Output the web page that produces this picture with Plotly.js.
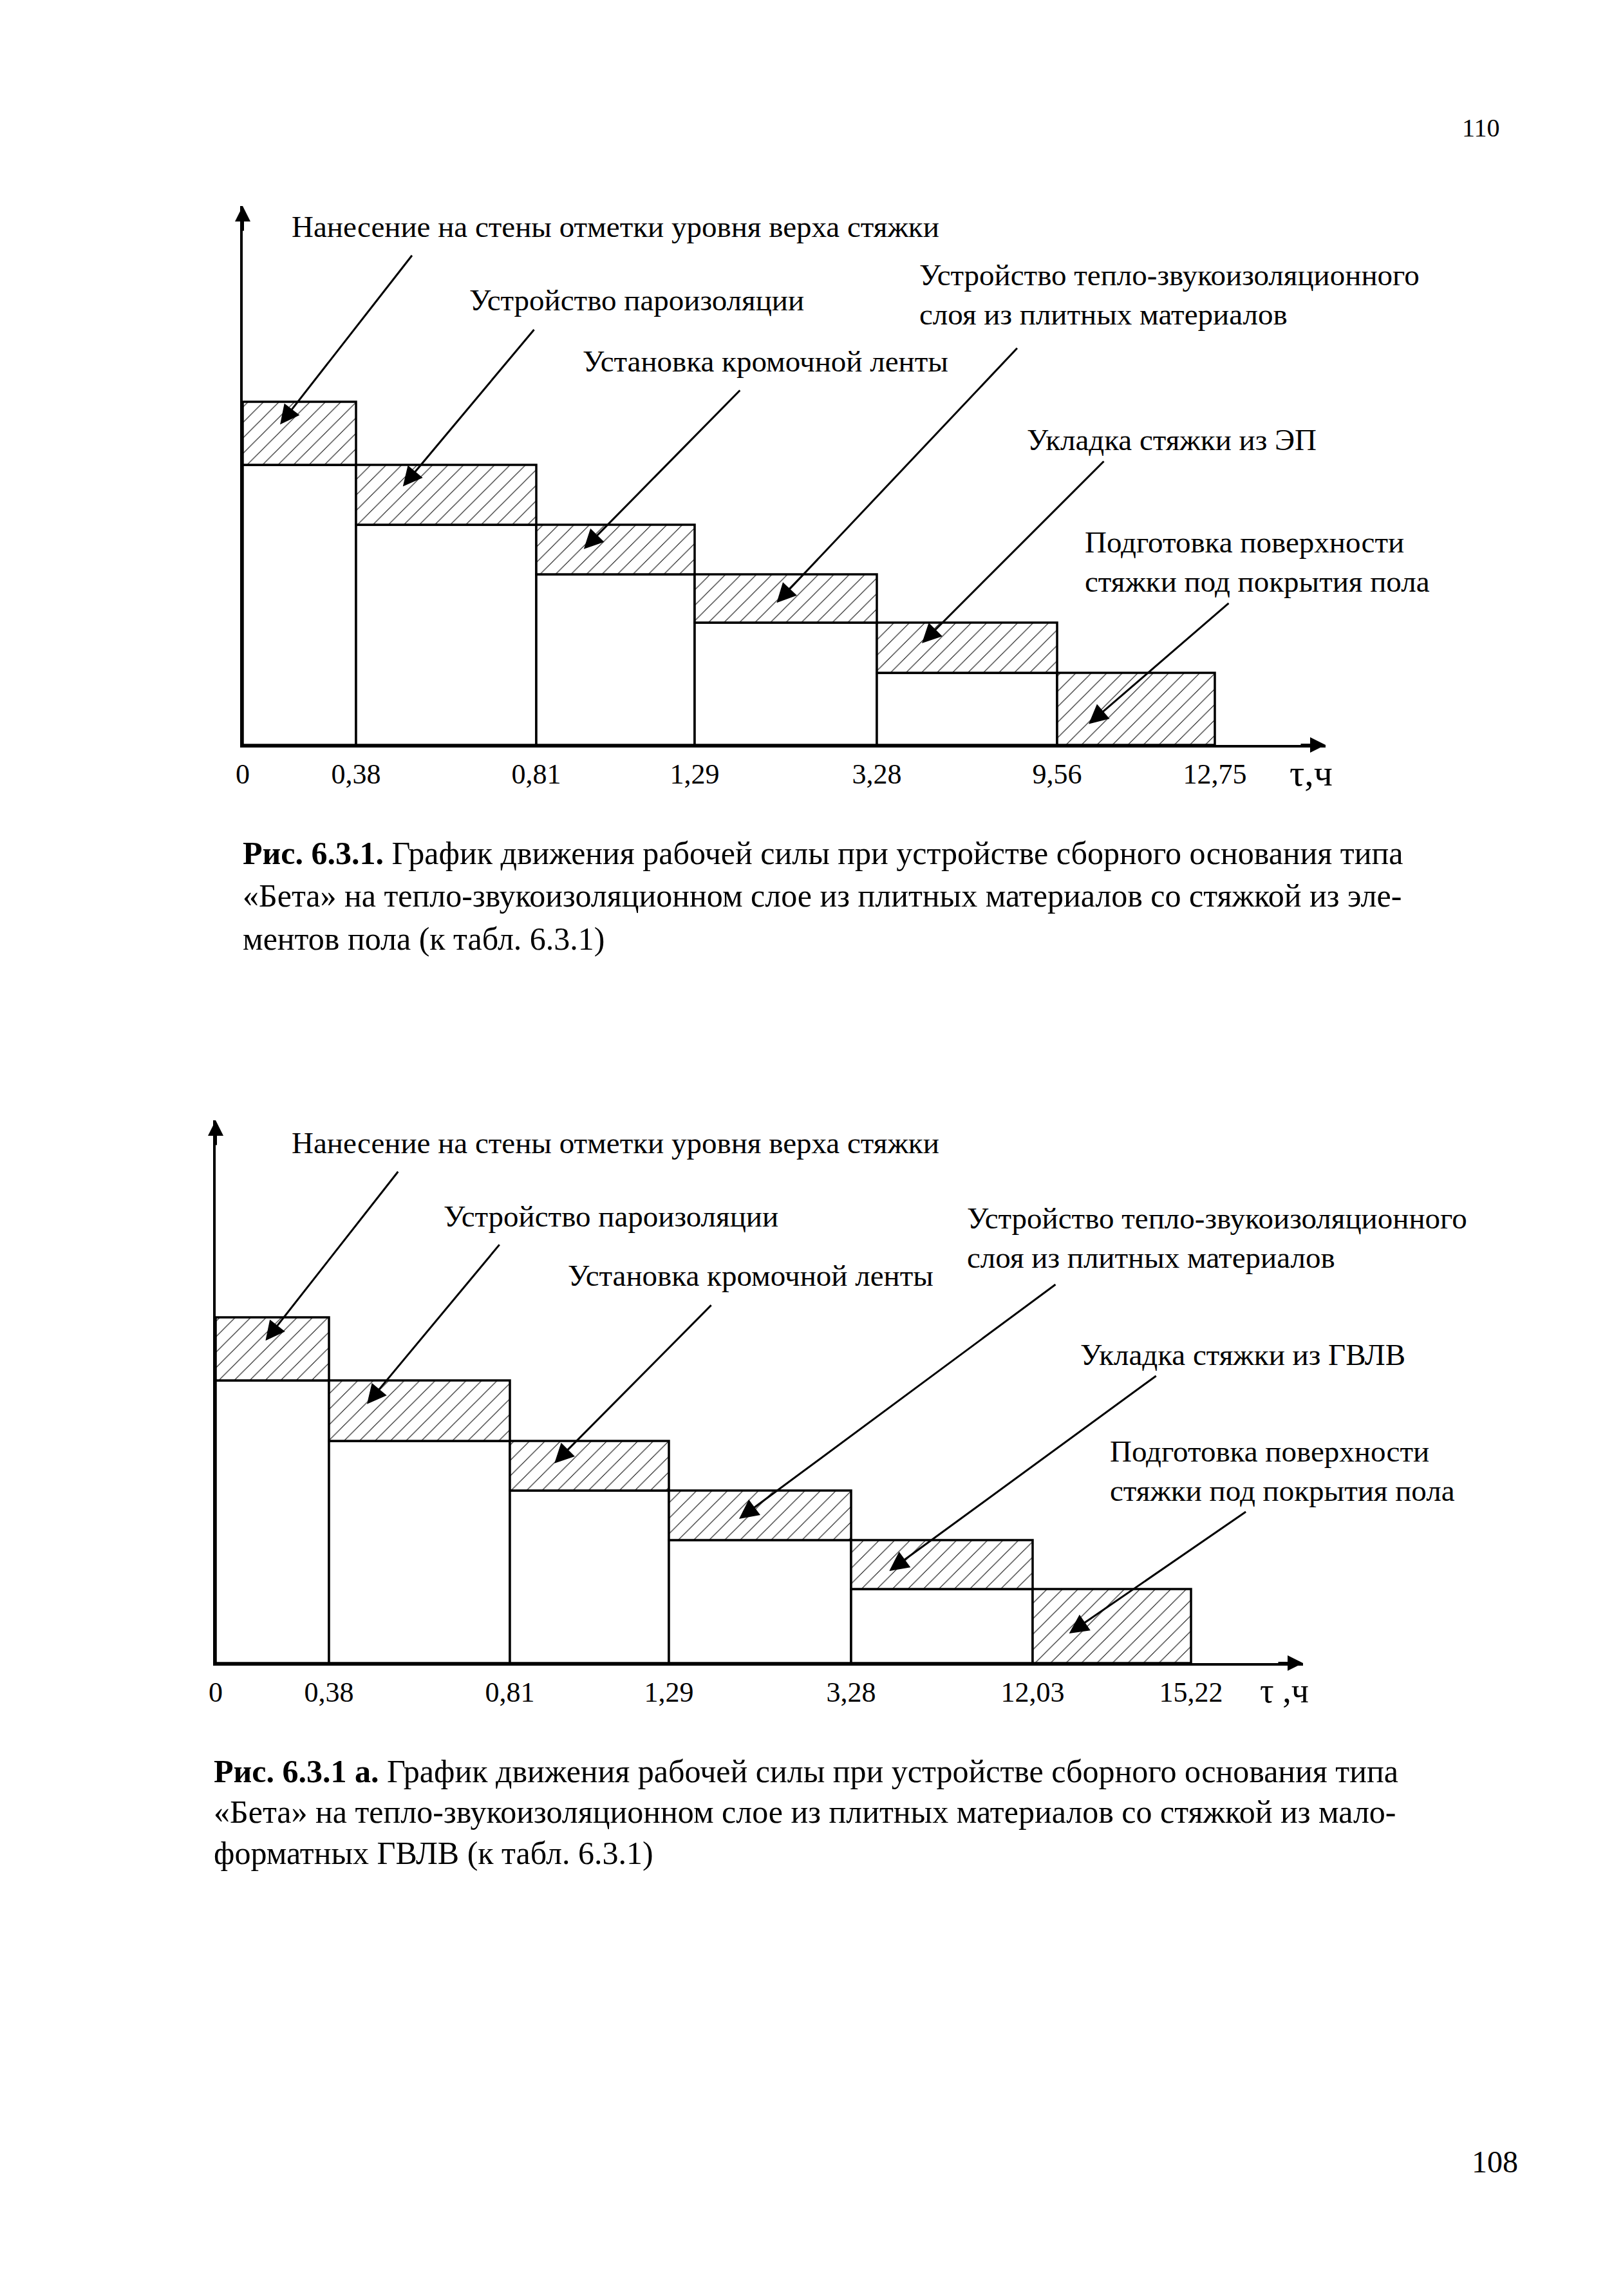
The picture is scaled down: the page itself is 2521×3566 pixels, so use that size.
<!DOCTYPE html>
<html>
<head>
<meta charset="utf-8">
<script src="https://cdn.plot.ly/plotly-3.0.1.min.js"></script>
<style>
html,body{margin:0;padding:0;background:#ffffff;}
#page{width:2521px;height:3566px;}
</style>
</head>
<body>
<div id="page"></div>
<script>
// ---------- DATA ----------
// Chart 1 (Рис. 6.3.1) – time marks on the axis, schematic stage spans, crew levels
const timeLabels1 = ['0', '0,38', '0,81', '1,29', '3,28', '9,56', '12,75'];
const stageSpan1  = [1.76, 2.80, 2.46, 2.83, 2.80, 2.45];
const crewLevels1 = [5.33, 4.35, 3.42, 2.65, 1.90, 1.12, 0];
const stageNames1 = [
  'Нанесение на стены отметки уровня верха стяжки',
  'Устройство пароизоляции',
  'Установка кромочной ленты',
  'Устройство тепло-звукоизоляционного<br>слоя из плитных материалов',
  'Укладка стяжки из ЭП',
  'Подготовка поверхности<br>стяжки под покрытия пола'
];

// Chart 2 (Рис. 6.3.1 а)
const timeLabels2 = ['0', '0,38', '0,81', '1,29', '3,28', '12,03', '15,22'];
const stageSpan2  = [1.76, 2.81, 2.47, 2.83, 2.82, 2.46];
const crewLevels2 = [5.37, 4.39, 3.45, 2.68, 1.91, 1.15, 0];
const stageNames2 = [
  'Нанесение на стены отметки уровня верха стяжки',
  'Устройство пароизоляции',
  'Установка кромочной ленты',
  'Устройство тепло-звукоизоляционного<br>слоя из плитных материалов',
  'Укладка стяжки из ГВЛВ',
  'Подготовка поверхности<br>стяжки под покрытия пола'
];

const axisTitle1 = 'τ,ч';
const axisTitle2 = 'τ ,ч';

const caption1 = [
  '<b>Рис. 6.3.1.</b> График движения рабочей силы при устройстве сборного основания типа',
  '«Бета» на тепло-звукоизоляционном слое из плитных материалов со стяжкой из эле-',
  'ментов пола (к табл. 6.3.1)'
];
const caption2 = [
  '<b>Рис. 6.3.1 а.</b> График движения рабочей силы при устройстве сборного основания типа',
  '«Бета» на тепло-звукоизоляционном слое из плитных материалов со стяжкой из мало-',
  'форматных ГВЛВ (к табл. 6.3.1)'
];
const pageNumbers = ['110', '108'];

// ---------- LAYOUT / STYLE ----------
const W = 2521, H = 3566;
const FONT = 'Liberation Serif, Times New Roman, serif';
const px = v => v / W;
const py = v => 1 - v / H;

// label placement [left x, centre y] in page pixels
const labelPos1 = [[451,352],[727,466],[903,561],[1426,458],[1593,683],[1683,872]];
const labelPos2 = [[451,1775],[687,1889],[880,1981],[1500,1922],[1676,2104],[1722,2284]];
// arrow tip as fraction inside each hatched band [fx from left, fy from top], tail offset in px
const tipFrac1 = [[0.33,0.36],[0.26,0.36],[0.30,0.49],[0.45,0.59],[0.25,0.41],[0.20,0.71]];
const tail1    = [[206,-264],[205,-245],[244,-248],[375,-397],[284,-284],[219,-189]];
const tipFrac2 = [[0.44,0.37],[0.21,0.39],[0.28,0.45],[0.385,0.57],[0.21,0.63],[0.23,0.60]];
const tail2    = [[207,-264],[207,-249],[245,-247],[493,-365],[416,-304],[276,-190]];

function edgesFrom(spans) {
  const e = [0];
  spans.forEach(s => e.push(e[e.length - 1] + s));
  return e;
}

function stageTraces(spans, levels, xa, ya) {
  const edges = edgesFrom(spans);
  const centers = spans.map((s, i) => edges[i] + s / 2);
  const lower = levels.slice(1);
  const upper = levels.slice(0, -1);
  const white = {
    type: 'bar', x: centers, y: lower, base: lower.map(() => 0), width: spans,
    xaxis: xa, yaxis: ya, hoverinfo: 'skip', showlegend: false,
    marker: { color: '#ffffff', line: { color: '#000000', width: 3.5 } }
  };
  const hatched = {
    type: 'bar', x: centers, y: upper.map((u, i) => u - lower[i]), base: lower, width: spans,
    xaxis: xa, yaxis: ya, hoverinfo: 'skip', showlegend: false,
    marker: {
      color: '#ffffff',
      line: { color: '#000000', width: 3.5 },
      pattern: { shape: '/', fgcolor: '#000000', bgcolor: '#ffffff', size: 17, solidity: 0.06 }
    }
  };
  return [white, hatched];
}

function arrowAnnotations(spans, levels, fracs, tails, xr, yr) {
  const edges = edgesFrom(spans);
  return spans.map((s, i) => {
    const hi = levels[i], lo = levels[i + 1];
    return {
      xref: xr, yref: yr,
      x: edges[i] + fracs[i][0] * s,
      y: hi - fracs[i][1] * (hi - lo),
      ax: tails[i][0], ay: tails[i][1],
      text: '', showarrow: true, arrowhead: 2, arrowsize: 2, arrowwidth: 3,
      arrowcolor: '#000000', standoff: 0, startstandoff: 0
    };
  });
}

function labelAnnotations(names, pos) {
  return names.map((t, i) => ({
    xref: 'paper', yref: 'paper', x: px(pos[i][0]), y: py(pos[i][1]),
    xanchor: 'left', yanchor: 'middle', align: 'left', showarrow: false,
    text: t, font: { family: FONT, size: 47, color: '#000000' }
  }));
}

function axisArrows(xr, yr) {
  return [
    { xref: xr + ' domain', yref: yr + ' domain', x: 1, y: 0, ax: -40, ay: 0,
      text: '', showarrow: true, arrowhead: 2, arrowsize: 1.2, arrowwidth: 4, arrowcolor: '#000', standoff: 0 },
    { xref: xr + ' domain', yref: yr + ' domain', x: 0, y: 1, ax: 0, ay: 40,
      text: '', showarrow: true, arrowhead: 2, arrowsize: 1.2, arrowwidth: 4, arrowcolor: '#000', standoff: 0 }
  ];
}

function captionAnnotations(lines, x, ys) {
  return lines.map((t, i) => ({
    xref: 'paper', yref: 'paper', x: px(x), y: py(ys[i]),
    xanchor: 'left', yanchor: 'middle', align: 'left', showarrow: false,
    text: t, font: { family: FONT, size: 50, color: '#000000' }
  }));
}

function xAxisDef(domain, range, spans, labels, anchor) {
  return {
    domain: domain, range: range, anchor: anchor, fixedrange: true,
    showline: true, linecolor: '#000000', linewidth: 4, mirror: false,
    showgrid: false, zeroline: false, ticks: '',
    tickmode: 'array', tickvals: edgesFrom(spans), ticktext: labels,
    ticklabelstandoff: 3,
    tickfont: { family: FONT, size: 44, color: '#000000' }
  };
}
function yAxisDef(domain, range, anchor) {
  return {
    domain: domain, range: range, anchor: anchor, fixedrange: true,
    showline: true, linecolor: '#000000', linewidth: 4,
    showgrid: false, zeroline: false, ticks: '', showticklabels: false
  };
}

const data = [].concat(
  stageTraces(stageSpan1, crewLevels1, 'x', 'y'),
  stageTraces(stageSpan2, crewLevels2, 'x2', 'y2')
);

const annotations = [].concat(
  labelAnnotations(stageNames1, labelPos1),
  labelAnnotations(stageNames2, labelPos2),
  arrowAnnotations(stageSpan1, crewLevels1, tipFrac1, tail1, 'x', 'y'),
  arrowAnnotations(stageSpan2, crewLevels2, tipFrac2, tail2, 'x2', 'y2'),
  axisArrows('x', 'y'),
  axisArrows('x2', 'y2'),
  captionAnnotations(caption1, 375, [1325, 1391, 1458]),
  captionAnnotations(caption2, 330, [2751, 2814, 2878]),
  [
    { xref: 'paper', yref: 'paper', x: px(2332), y: py(198), xanchor: 'right', yanchor: 'middle',
      showarrow: false, text: pageNumbers[0], font: { family: FONT, size: 40, color: '#000' } },
    { xref: 'paper', yref: 'paper', x: px(2360), y: py(3357), xanchor: 'right', yanchor: 'middle',
      showarrow: false, text: pageNumbers[1], font: { family: FONT, size: 48, color: '#000' } },
    { xref: 'paper', yref: 'paper', x: px(2036), y: py(1200), xanchor: 'center', yanchor: 'middle',
      showarrow: false, text: axisTitle1, font: { family: FONT, size: 58, color: '#000' } },
    { xref: 'paper', yref: 'paper', x: px(1995), y: py(2626), xanchor: 'center', yanchor: 'middle',
      showarrow: false, text: axisTitle2, font: { family: FONT, size: 54, color: '#000' } }
  ]
);

const layout = {
  width: W, height: H,
  margin: { l: 0, r: 0, t: 0, b: 0, pad: 0 },
  paper_bgcolor: '#ffffff', plot_bgcolor: 'rgba(0,0,0,0)',
  showlegend: false, barmode: 'overlay',
  font: { family: FONT, color: '#000000' },
  xaxis:  xAxisDef([px(377), px(2059)], [0, 16.82], stageSpan1, timeLabels1, 'y'),
  yaxis:  yAxisDef([py(1157), py(320)], [0, 8.37], 'x'),
  xaxis2: xAxisDef([px(335), px(2024)], [0, 16.89], stageSpan2, timeLabels2, 'y2'),
  yaxis2: yAxisDef([py(2583), py(1740)], [0, 8.43], 'x2'),
  annotations: annotations
};

Plotly.newPlot('page', data, layout, { staticPlot: true, displayModeBar: false });
</script>
</body>
</html>
